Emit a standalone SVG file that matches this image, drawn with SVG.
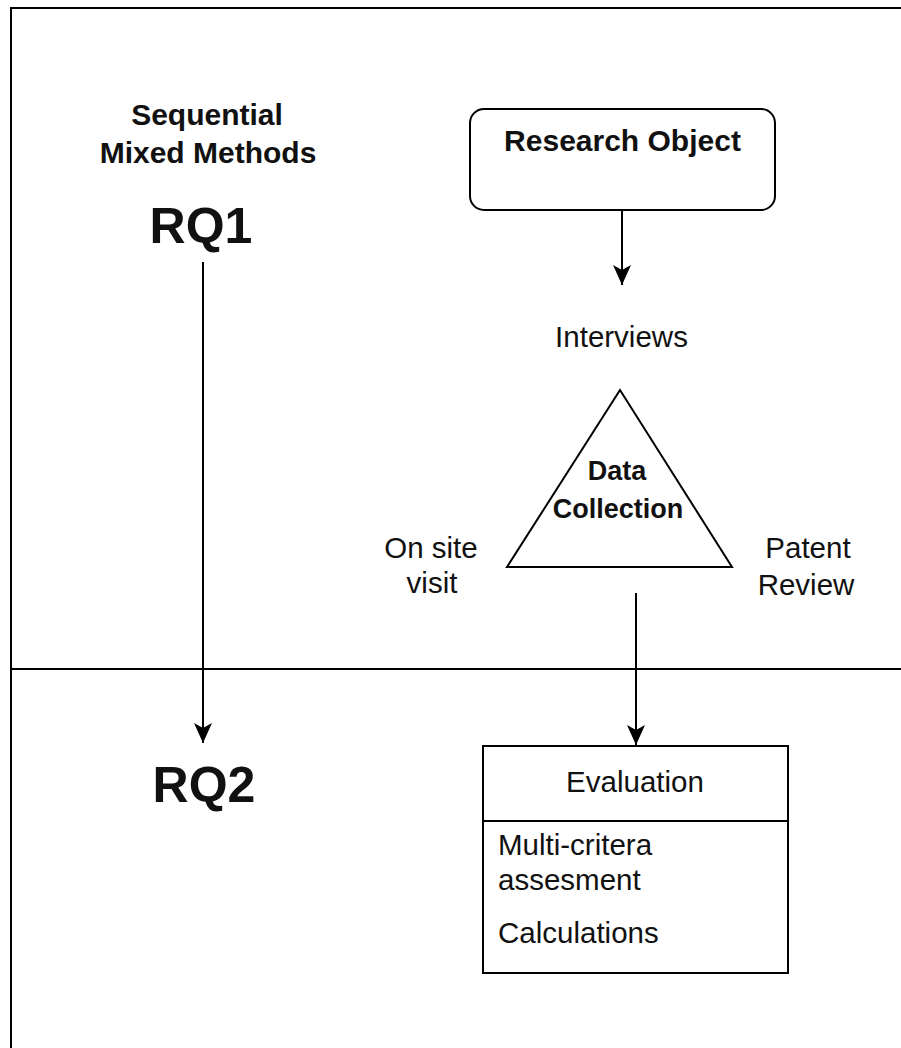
<svg xmlns="http://www.w3.org/2000/svg" width="901" height="1048" viewBox="0 0 901 1048">
<style>
.ln{stroke:#000;stroke-width:2;fill:none}
.shape{stroke:#000;stroke-width:2;fill:#fff}
.t{font-family:"Liberation Sans",Arial,Helvetica,sans-serif;fill:#111;text-anchor:middle}
.b{font-weight:bold}
.r{font-size:29.5px}
.l{text-anchor:start}
</style>
<defs>
<marker id="arr" markerUnits="userSpaceOnUse" markerWidth="22" markerHeight="20" refX="20" refY="10" orient="auto">
<path d="M0,1 L20,10 L0,19 L5,10 Z" fill="#000"/>
</marker>
</defs>
<rect width="901" height="1048" fill="#fff"/>
<g id="frame">
<path class="ln" d="M11,1048 V8 H901"/>
<path class="ln" d="M11,669 H901"/>
</g>
<g id="connectors">
<path class="ln" d="M203,262 V743" marker-end="url(#arr)"/>
<path class="ln" d="M622,210 V285" marker-end="url(#arr)"/>
<path class="ln" d="M636,593 V745" marker-end="url(#arr)"/>
</g>
<g id="title">
<text class="t b" x="207" y="125" font-size="30">Sequential</text>
<text class="t b" x="208" y="163" font-size="30">Mixed Methods</text>
</g>
<g id="rq1"><text class="t b" x="201" y="243" font-size="50">RQ1</text></g>
<g id="rq2"><text class="t b" x="204" y="802" font-size="50">RQ2</text></g>
<g id="research-object">
<rect class="shape" x="470" y="109" width="305" height="101" rx="14"/>
<text class="t b" x="622.5" y="151" font-size="30">Research Object</text>
</g>
<g id="interviews"><text class="t r" x="621.5" y="347">Interviews</text></g>
<g id="data-collection">
<polygon class="shape" points="620,390 507,567 732,567"/>
<text class="t b" x="617" y="480" font-size="27">Data</text>
<text class="t b" x="618" y="518" font-size="27">Collection</text>
</g>
<g id="on-site-visit">
<text class="t r" x="431" y="558">On site</text>
<text class="t r" x="432" y="593">visit</text>
</g>
<g id="patent-review">
<text class="t r" x="808" y="558">Patent</text>
<text class="t r" x="806" y="595">Review</text>
</g>
<g id="evaluation">
<rect class="shape" x="483" y="746" width="305" height="227"/>
<path class="ln" d="M483,821 H788"/>
<text class="t r" x="635" y="792">Evaluation</text>
<text class="t r l" x="498" y="855">Multi-critera</text>
<text class="t r l" x="498" y="890">assesment</text>
<text class="t r l" x="498" y="943">Calculations</text>
</g>
</svg>
